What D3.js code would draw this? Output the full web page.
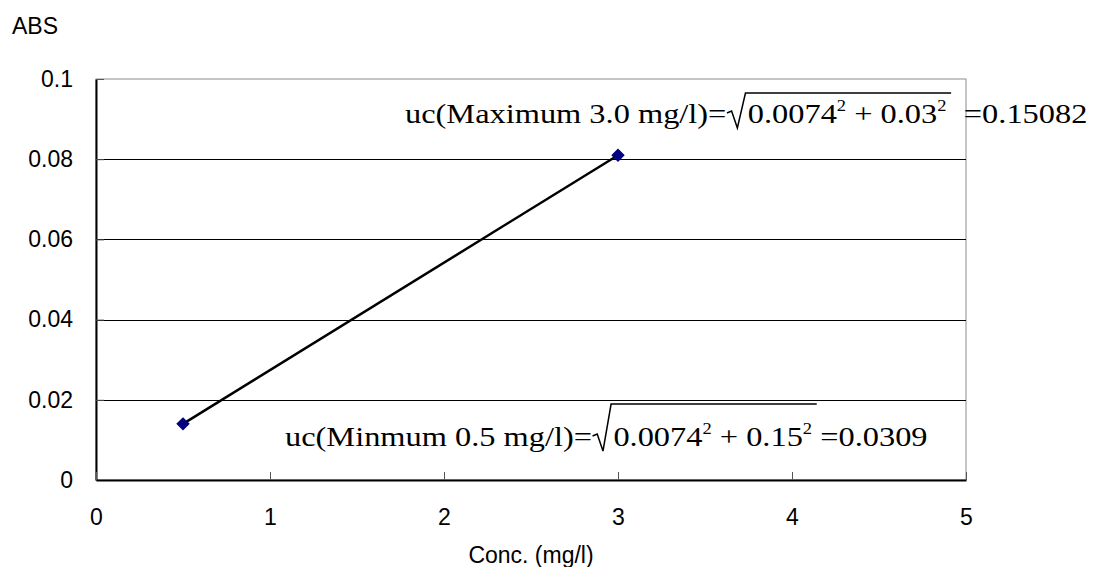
<!DOCTYPE html>
<html>
<head>
<meta charset="utf-8">
<script src="https://cdn.jsdelivr.net/npm/d3@7"></script>
<style>
  body { margin: 0; background: #fff; }
  text { white-space: pre; }
</style>
</head>
<body>
<div id="chart"></div>
<script>
// Chart data
const concValues = [0.5, 3.0];
const absValues = [0.014, 0.081];
const xTickValues = [0, 1, 2, 3, 4, 5];
const yTickValues = [0, 0.02, 0.04, 0.06, 0.08, 0.1];
const yTickLabels = ["0", "0.02", "0.04", "0.06", "0.08", "0.1"];
const gridValues = [0.02, 0.04, 0.06, 0.08];

// Formula annotation texts
const maxPrefix = "uc(Maximum 3.0 mg/l)=";
const maxTerms = [["0.0074", "2"], [" + 0.03", "2"]];
const maxSuffix = "=0.15082";
const minPrefix = "uc(Minmum 0.5 mg/l)=";
const minTerms = [["0.0074", "2"], [" + 0.15", "2"]];
const minSuffix = "=0.0309";

const width = 1102;
const height = 567;
const margin = { left: 96, right: 136, top: 79, bottom: 87 };

const svg = d3.select("#chart")
  .append("svg")
  .attr("width", width)
  .attr("height", height)
  .attr("viewBox", [0, 0, width, height]);

svg.append("rect")
  .attr("width", width)
  .attr("height", height)
  .attr("fill", "#fff");

// Scales
const x = d3.scaleLinear()
  .domain([0, 5])
  .range([margin.left, width - margin.right]);

const y = d3.scaleLinear()
  .domain([0, 0.1])
  .range([height - margin.bottom, margin.top]);

const sansFont = "'Liberation Sans', Arial, sans-serif";
const sansSize = 23;

// plot border (top + right, grey)
svg.append("rect")
  .attr("x", x(0))
  .attr("y", y(0.1))
  .attr("width", x(5) - x(0))
  .attr("height", y(0) - y(0.1))
  .attr("fill", "none")
  .attr("stroke", "#8c8c8c")
  .attr("stroke-width", 1);

// gridlines
svg.append("g")
  .selectAll("line")
  .data(gridValues)
  .enter()
  .append("line")
  .attr("x1", x(0))
  .attr("x2", x(5))
  .attr("y1", d => Math.round(y(d)) + 0.5)
  .attr("y2", d => Math.round(y(d)) + 0.5)
  .attr("stroke", "#000")
  .attr("stroke-width", 1);

// Y axis
const yAxis = svg.append("g")
  .attr("transform", `translate(${x(0)},0)`)
  .call(d3.axisLeft(y)
    .tickValues(yTickValues)
    .tickFormat((d, i) => yTickLabels[i])
    .tickSizeInner(-8)
    .tickSizeOuter(0)
    .tickPadding(23));
yAxis.select(".domain").attr("stroke", "#000").attr("stroke-width", 2);
yAxis.selectAll(".tick line").attr("stroke", "#555");
yAxis.selectAll("text")
  .attr("font-family", sansFont)
  .attr("font-size", sansSize)
  .attr("fill", "#000");

// X axis
const xAxis = svg.append("g")
  .attr("transform", `translate(0,${y(0)})`)
  .call(d3.axisBottom(x)
    .tickValues(xTickValues)
    .tickFormat(d3.format("d"))
    .tickSizeInner(-8)
    .tickSizeOuter(0)
    .tickPadding(29));
xAxis.select(".domain").attr("stroke", "#000").attr("stroke-width", 2);
xAxis.selectAll(".tick line").attr("stroke", "#555");
xAxis.selectAll("text")
  .attr("font-family", sansFont)
  .attr("font-size", sansSize)
  .attr("fill", "#000");

// axis titles
svg.append("text")
  .attr("x", 12)
  .attr("y", 34)
  .attr("font-family", sansFont)
  .attr("font-size", sansSize)
  .text("ABS");

svg.append("text")
  .attr("x", (x(0) + x(5)) / 2)
  .attr("y", 563)
  .attr("text-anchor", "middle")
  .attr("font-family", sansFont)
  .attr("font-size", sansSize)
  .text("Conc. (mg/l)");

// data line
const points = concValues.map((c, i) => ({ c: c, a: absValues[i] }));

svg.append("path")
  .datum(points)
  .attr("fill", "none")
  .attr("stroke", "#000")
  .attr("stroke-width", 2.5)
  .attr("d", d3.line().x(d => x(d.c)).y(d => y(d.a)));

svg.selectAll(".marker")
  .data(points)
  .enter()
  .append("path")
  .attr("class", "marker")
  .attr("transform", d => `translate(${x(d.c)},${y(d.a)}) rotate(45)`)
  .attr("d", d3.symbol().type(d3.symbolSquare).size(72))
  .attr("fill", "#000080")
  .attr("stroke", "#000080");

// formula annotation: prefix, sqrt(terms), suffix -- stretched like the embedded equation
function drawFormula(px, baseline, barY, prefix, terms, suffix, gap) {
  const fs = 28;
  const sx = 1.157;
  const g = svg.append("g")
    .attr("transform", `translate(${px},${baseline}) scale(${sx},1)`)
    .attr("font-family", "'Liberation Serif', 'Times New Roman', serif")
    .attr("font-size", fs)
    .attr("fill", "#000");

  const pre = g.append("text").text(prefix);
  const cx = pre.node().getComputedTextLength() + 0.5;
  const radW = 18;

  const rad = g.append("text").attr("x", cx + radW);
  terms.forEach((t, i) => {
    rad.append("tspan").attr("dy", i === 0 ? 0 : 12).text(t[0]);
    rad.append("tspan").attr("font-size", 16).attr("dy", -12).text(t[1]);
  });
  const rw = rad.node().getComputedTextLength();
  const endX = cx + radW + rw + 4;

  g.append("path")
    .attr("d", `M${cx},-10 L${cx + 4},-12 L${cx + 9},5 L${cx + 16},${barY} L${endX},${barY}`)
    .attr("fill", "none")
    .attr("stroke", "#000")
    .attr("stroke-width", 1.5)
    .attr("vector-effect", "non-scaling-stroke");

  g.append("text")
    .attr("x", endX + gap)
    .text(suffix);
}

drawFormula(405, 123, -30, maxPrefix, maxTerms, maxSuffix, 11);
drawFormula(285, 446, -42, minPrefix, minTerms, minSuffix, 3);
</script>
</body>
</html>
